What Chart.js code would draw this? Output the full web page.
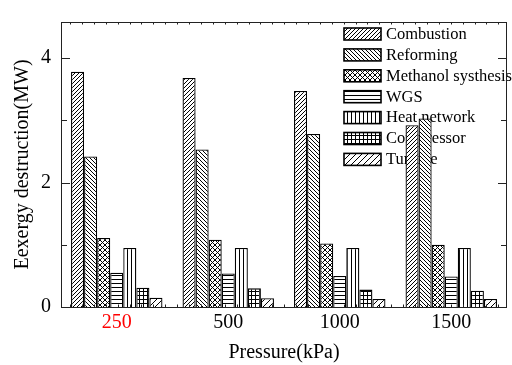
<!DOCTYPE html>
<html>
<head>
<meta charset="utf-8">
<script src="https://cdn.jsdelivr.net/npm/chart.js@4"></script>
<style>
  html, body { margin: 0; padding: 0; background: #fff; }
  #wrap { width: 512px; height: 365px; }
</style>
</head>
<body>
<div id="wrap"><canvas id="chart"></canvas></div>
<script>
// values (MW)
var pressures = ['250', '500', '1000', '1500'];
var combustion = [3.78, 3.68, 3.47, 2.92];
var reforming = [2.42, 2.53, 2.78, 3.03];
var methanol = [1.11, 1.08, 1.02, 1.00];
var wgs = [0.55, 0.54, 0.50, 0.49];
var heatNetwork = [0.95, 0.95, 0.95, 0.95];
var compressor = [0.31, 0.30, 0.28, 0.26];
var turbine = [0.15, 0.14, 0.13, 0.13];
var yTicks = [0, 1, 2, 3, 4];

var serif = "'Liberation Serif', 'Times New Roman', serif";

function hatch(kind, s) {
	var c = document.createElement('canvas');
	c.width = s;
	c.height = s;
	var g = c.getContext('2d');
	g.fillStyle = '#fff';
	g.fillRect(0, 0, s, s);
	g.strokeStyle = '#000';
	g.lineWidth = 1;
	g.beginPath();
	if (kind == '/' || kind == 'x') {
		g.moveTo(0, s); g.lineTo(s, 0);
		g.moveTo(-1, 1); g.lineTo(1, -1);
		g.moveTo(s - 1, s + 1); g.lineTo(s + 1, s - 1);
	}
	if (kind == '\\' || kind == 'x') {
		g.moveTo(0, 0); g.lineTo(s, s);
		g.moveTo(-1, s - 1); g.lineTo(1, s + 1);
		g.moveTo(s - 1, -1); g.lineTo(s + 1, 1);
	}
	if (kind == '-' || kind == '+') {
		g.moveTo(0, s - 0.5); g.lineTo(s, s - 0.5);
	}
	if (kind == '|' || kind == '+') {
		g.moveTo(s - 0.5, 0); g.lineTo(s - 0.5, s);
	}
	g.stroke();
	return g.createPattern(c, 'repeat');
}

function series(label, data, pattern) {
	return {
		label: label,
		data: data,
		backgroundColor: pattern,
		borderColor: '#000',
		borderWidth: 1.3,
		categoryPercentage: 0.82,
		barPercentage: 1
	};
}

// frame, inward ticks, legend inside the plot
var framePlugin = {
	id: 'frame',
	beforeDatasetsDraw: function (chart) {
		var ctx = chart.ctx, a = chart.chartArea;
		ctx.save();
		var x0 = a.right - 163, y0 = a.top + 6;
		ctx.font = '16.5px ' + serif;
		ctx.textBaseline = 'middle';
		chart.data.datasets.forEach(function (ds, i) {
			var y = y0 + i * 20.9;
			ctx.fillStyle = ds.backgroundColor;
			ctx.fillRect(x0, y, 37, 12);
			ctx.strokeStyle = '#000';
			ctx.lineWidth = 1.6;
			ctx.strokeRect(x0, y, 37, 12);
			ctx.fillStyle = '#000';
			ctx.fillText(ds.label, x0 + 42, y + 6.5);
		});
		ctx.restore();
	},
	afterDraw: function (chart) {
		var ctx = chart.ctx, a = chart.chartArea, ys = chart.scales.y;
		ctx.save();
		ctx.strokeStyle = '#222';
		ctx.lineWidth = 1;
		ctx.strokeRect(a.left + 0.5, a.top + 0.5, a.right - a.left - 1, a.bottom - a.top);
		ctx.beginPath();
		yTicks.forEach(function (v) {
			var y = Math.round(ys.getPixelForValue(v)) + 0.5;
			var len = v % 2 === 0 ? 9 : 6;
			ctx.moveTo(a.left, y); ctx.lineTo(a.left + len, y);
			ctx.moveTo(a.right, y); ctx.lineTo(a.right - len, y);
		});
		// small minor ticks along top and bottom edges
		for (var x = a.left + 9; x < a.right - 3; x += 11.9) {
			var px = Math.round(x) + 0.5;
			ctx.moveTo(px, a.top); ctx.lineTo(px, a.top + 2.5);
			ctx.moveTo(px, a.bottom); ctx.lineTo(px, a.bottom - 2.5);
		}
		ctx.stroke();
		ctx.restore();
	}
};

var ctxB = document.getElementById('chart').getContext('2d');
var myBarChart = new Chart(ctxB, {
	type: 'bar',
	data: {
		labels: pressures,
		datasets: [
			series('Combustion', combustion, hatch('/', 4)),
			series('Reforming', reforming, hatch('\\', 4)),
			series('Methanol systhesis', methanol, hatch('x', 5)),
			series('WGS', wgs, hatch('-', 4)),
			series('Heat network', heatNetwork, hatch('|', 4)),
			series('Compressor', compressor, hatch('+', 4)),
			series('Turbine', turbine, hatch('/', 6))
		]
	},
	options: {
		responsive: true,
		maintainAspectRatio: false,
		animation: false,
		layout: { padding: { top: 11, right: 5, left: 0, bottom: 0 } },
		plugins: {
			legend: { display: false },
			tooltip: { enabled: false }
		},
		scales: {
			x: {
				grid: { display: false, drawTicks: false },
				border: { display: false },
				ticks: {
					padding: 4,
					font: { family: serif, size: 20 },
					color: function (c) { return c.index === 0 ? '#ff0000' : '#000'; }
				},
				title: {
					display: true,
					text: 'Pressure(kPa)',
					font: { family: serif, size: 20 },
					color: '#000',
					padding: 0
				},
				afterFit: function (scale) { scale.height = 58; }
			},
			y: {
				min: 0,
				max: 4.58,
				grid: { display: false, drawTicks: false },
				border: { display: false },
				ticks: {
					stepSize: 1,
					padding: 10,
					font: { family: serif, size: 20 },
					color: '#000',
					callback: function (v) { return v % 2 === 0 ? v : ''; }
				},
				title: {
					display: true,
					text: 'Eexergy destruction(MW)',
					font: { family: serif, size: 20 },
					color: '#000',
					padding: { top: 11, bottom: 0 }
				},
				afterFit: function (scale) { scale.width = 61; }
			}
		}
	},
	plugins: [framePlugin]
});
</script>
</body>
</html>
